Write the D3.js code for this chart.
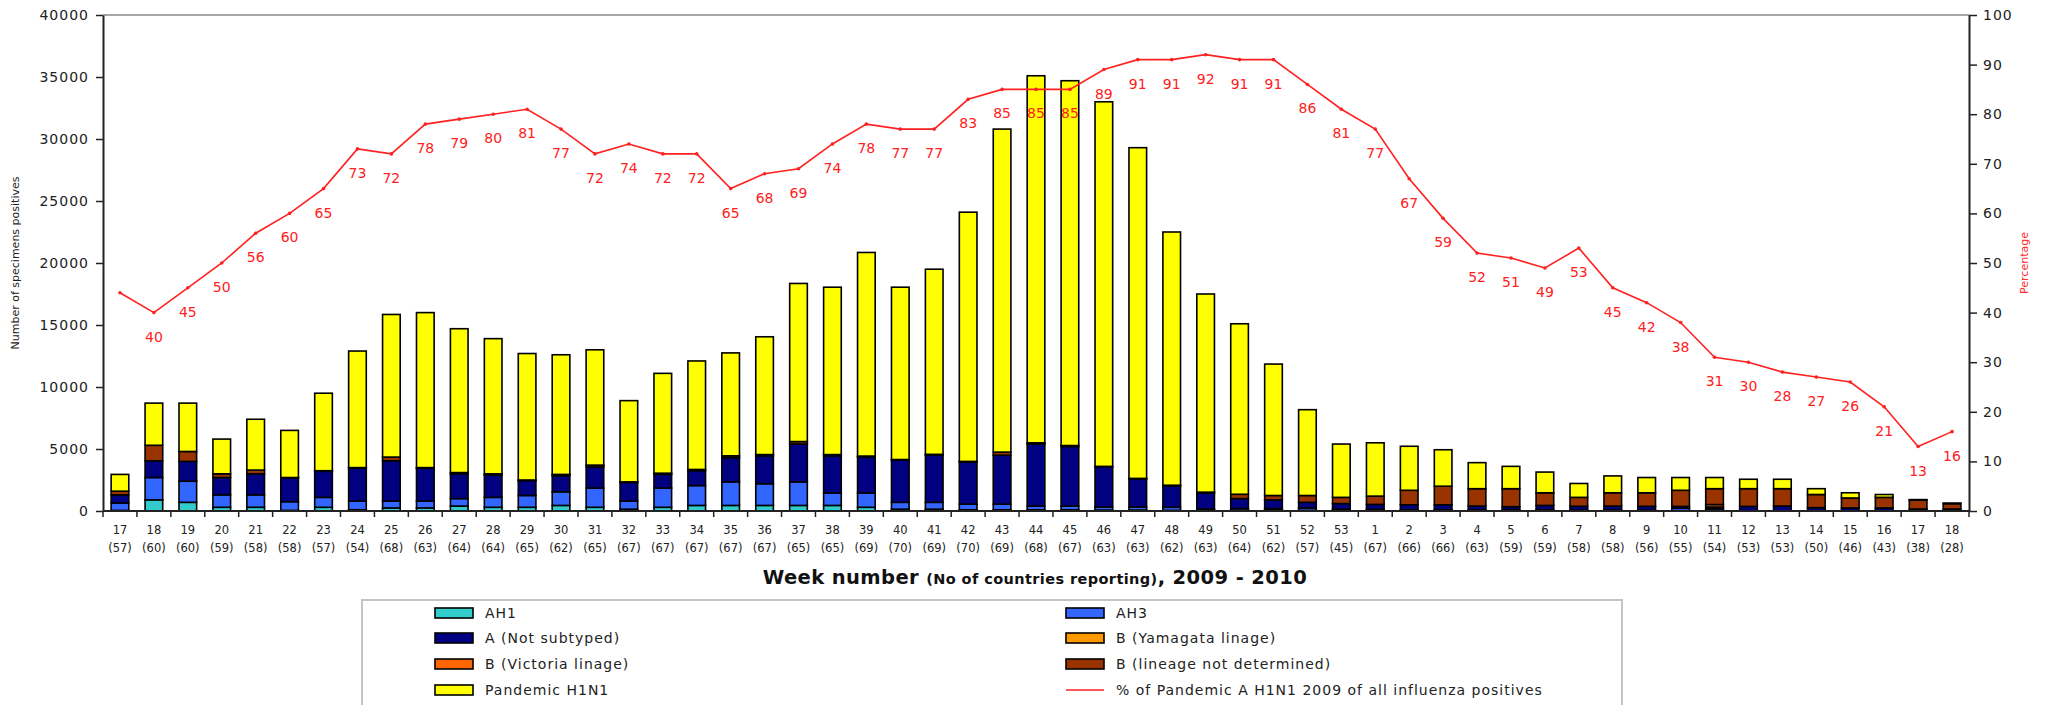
<!DOCTYPE html>
<html><head><meta charset="utf-8">
<script src="https://cdn.jsdelivr.net/npm/d3@7"></script>
<style>body{margin:0;background:#fff;} svg{display:block;}</style>
</head><body>
<svg id="chart" width="2048" height="705"></svg>
<script>
// ---------- DATA ----------
const weeks = ["17","18","19","20","21","22","23","24","25","26","27","28","29","30","31","32","33","34","35","36","37","38","39","40","41","42","43","44","45","46","47","48","49","50","51","52","53","1","2","3","4","5","6","7","8","9","10","11","12","13","14","15","16","17","18"];
const countries = ["(57)","(60)","(60)","(59)","(58)","(58)","(57)","(54)","(68)","(63)","(64)","(64)","(65)","(62)","(65)","(67)","(67)","(67)","(67)","(67)","(65)","(65)","(69)","(70)","(69)","(70)","(69)","(68)","(67)","(63)","(63)","(62)","(63)","(64)","(62)","(57)","(45)","(67)","(66)","(66)","(63)","(59)","(59)","(58)","(58)","(56)","(55)","(54)","(53)","(53)","(50)","(46)","(43)","(38)","(28)"];

const AH1 = [50,900,700,300,300,50,300,100,250,250,400,300,300,450,300,150,300,450,450,450,450,450,300,150,150,100,100,100,100,80,80,50,50,50,100,50,50,30,30,30,20,20,20,20,20,20,20,20,0,0,0,0,0,0,0];
const AH3 = [600,1800,1700,1000,1000,700,800,700,550,550,600,800,950,1100,1550,650,1550,1600,1900,1750,1900,1000,1150,550,550,450,450,300,300,250,250,250,100,150,100,200,100,100,70,70,80,80,80,60,80,60,200,150,20,20,20,20,20,10,10];
const ANotSubtyped = [650,1350,1600,1400,1700,1900,2100,2650,3250,2650,2000,1800,1200,1300,1700,1500,1100,1200,1950,2250,3050,3000,2900,3400,3800,3400,3950,5000,4800,3200,2250,1700,1300,800,700,450,450,400,400,400,300,250,350,300,300,300,150,150,350,380,250,230,230,150,150];
const BYamagata = [0,0,0,0,0,0,0,0,0,0,0,0,0,0,0,0,0,0,0,0,0,0,0,0,0,0,0,0,0,0,0,0,0,0,0,0,0,0,0,0,0,0,0,0,0,0,0,0,0,0,0,0,0,0,0];
const BVictoria = [0,0,0,0,0,0,0,0,0,0,0,0,0,0,0,0,0,0,0,0,0,0,0,0,0,0,0,0,0,0,0,0,0,0,0,0,0,0,0,0,0,0,0,0,0,0,0,200,0,0,0,0,0,0,0];
const BNotDetermined = [300,1250,800,300,300,50,50,50,300,50,100,100,50,100,150,50,100,100,150,100,200,100,80,50,70,50,250,100,80,70,50,80,70,350,350,550,500,670,1170,1500,1400,1450,1020,720,1070,1090,1300,1280,1430,1400,1060,800,850,710,430];
const PandemicH1N1 = [1350,3400,3900,2800,4100,3800,6250,9400,11500,12500,11600,10900,10200,9650,9300,6550,8050,8750,8300,9500,12750,13500,16420,13900,14930,20100,26050,29600,29420,29400,26670,20420,15980,13750,10600,6920,4300,4300,3550,2940,2100,1800,1670,1120,1360,1230,1030,900,760,760,470,420,230,50,50];

const pctPandemic = [44,40,45,50,56,60,65,73,72,78,79,80,81,77,72,74,72,72,65,68,69,74,78,77,77,83,85,85,85,89,91,91,92,91,91,86,81,77,67,59,52,51,49,53,45,42,38,31,30,28,27,26,21,13,16];
const pctShowLabel = [false].concat(d3.range(54).map(() => true));

const leftTicks = [0,5000,10000,15000,20000,25000,30000,35000,40000];
const rightTicks = [0,10,20,30,40,50,60,70,80,90,100];

const seriesNames = ["AH1","AH3","A (Not subtyped)","B (Yamagata linage)","B (Victoria linage)","B (lineage not determined)","Pandemic  H1N1"];
const seriesColors = ["#33cccc","#3366ff","#000080","#ff9900","#ff6600","#993300","#ffff00"];
const lineName = "% of Pandemic A H1N1 2009 of all influenza positives";
const legendOrder = [0,1,2,3,4,5,6,7]; // 7 = line

// ---------- BUILD ----------
const seriesArrays = [AH1,AH3,ANotSubtyped,BYamagata,BVictoria,BNotDetermined,PandemicH1N1];
const table = weeks.map((w,i) => {
  const row = {i};
  seriesNames.forEach((s,k) => row[s] = seriesArrays[k][i]);
  return row;
});

const svg = d3.select("#chart");
const L = 103, R = 1969, T = 15, B = 511;
const FONT = "'DejaVu Sans', Arial, sans-serif";

const x = d3.scaleBand().domain(d3.range(weeks.length)).range([L,R]).paddingInner(0.48).paddingOuter(0.24);
const y = d3.scaleLinear().domain([0,40000]).range([B,T]);
const yR = d3.scaleLinear().domain([0,100]).range([B,T]);
const step = x.step();

// plot area border (grey top)
svg.append("line").attr("x1",L).attr("x2",R).attr("y1",T).attr("y2",T)
  .attr("stroke","#a6a6a6").attr("stroke-width",2);

// stacked bars
const stack = d3.stack().keys(seriesNames)(table);
const gBars = svg.append("g");
stack.forEach((layer,k) => {
  gBars.append("g").attr("fill",seriesColors[k])
    .selectAll("rect").data(layer.filter(d => d[1]-d[0] > 0)).join("rect")
    .attr("x", d => x(d.data.i))
    .attr("width", x.bandwidth())
    .attr("y", d => y(d[1]))
    .attr("height", d => y(d[0]) - y(d[1]))
    .attr("stroke","#000").attr("stroke-width",1.6);
});

// left axis
const axL = svg.append("g").attr("transform",`translate(${L},0)`)
  .call(d3.axisLeft(y).tickValues(leftTicks).tickSize(7).tickSizeOuter(0).tickPadding(7).tickFormat(d3.format("d")));
axL.select(".domain").attr("stroke","#222").attr("stroke-width",2);
axL.selectAll(".tick line").attr("stroke","#222").attr("stroke-width",1.5);
axL.selectAll("text").attr("font-family",FONT).attr("font-size",14).attr("letter-spacing",1).attr("fill","#222");

// right axis
const axR = svg.append("g").attr("transform",`translate(${R},0)`)
  .call(d3.axisRight(yR).tickValues(rightTicks).tickSize(8).tickSizeOuter(0).tickPadding(6));
axR.select(".domain").attr("stroke","#222").attr("stroke-width",2);
axR.selectAll(".tick line").attr("stroke","#222").attr("stroke-width",1.5);
axR.selectAll("text").attr("font-family",FONT).attr("font-size",14).attr("letter-spacing",1).attr("fill","#222");

// bottom axis: line + boundary ticks
svg.append("line").attr("x1",L).attr("x2",R).attr("y1",B).attr("y2",B).attr("stroke","#222").attr("stroke-width",2);
const boundaries = d3.range(weeks.length+1).map(i => i < weeks.length ? x(i) - step*x.paddingInner()/2 : x(i-1) + x.bandwidth() + step*x.paddingInner()/2);
svg.append("g").selectAll("line").data(boundaries).join("line")
  .attr("x1",d=>d).attr("x2",d=>d).attr("y1",B).attr("y2",B+6)
  .attr("stroke","#222").attr("stroke-width",1.5);

const gX = svg.append("g").attr("font-family",FONT).attr("font-size",11.5).attr("fill","#222").attr("text-anchor","middle");
gX.selectAll("text.wk").data(weeks).join("text").attr("class","wk")
  .attr("x",(d,i)=>x(i)+x.bandwidth()/2).attr("y",534).text(d=>d);
gX.selectAll("text.ct").data(countries).join("text").attr("class","ct")
  .attr("x",(d,i)=>x(i)+x.bandwidth()/2).attr("y",552).text(d=>d);

// x title
const xt = svg.append("text").attr("x",1035).attr("y",584).attr("text-anchor","middle")
  .attr("font-family",FONT).attr("font-weight","bold").attr("fill","#111").attr("letter-spacing",0.4);
xt.append("tspan").attr("font-size",19.5).text("Week number ");
xt.append("tspan").attr("font-size",14.5).text("(No of countries reporting)");
xt.append("tspan").attr("font-size",19.5).text(", 2009 - 2010");

// y titles
svg.append("text").attr("transform",`translate(19,${(T+B)/2}) rotate(-90)`).attr("text-anchor","middle")
  .attr("font-family",FONT).attr("font-size",11).attr("fill","#222").text("Number of specimens positives");
svg.append("text").attr("transform",`translate(2028,${(T+B)/2}) rotate(-90)`).attr("text-anchor","middle")
  .attr("font-family",FONT).attr("font-size",11).attr("fill","#ff2a2a").text("Percentage");

// line
const cx = i => x(i) + x.bandwidth()/2;
const line = d3.line().x((d,i)=>cx(i)).y(d=>yR(d));
svg.append("path").datum(pctPandemic).attr("d",line).attr("fill","none")
  .attr("stroke","#ff2020").attr("stroke-width",1.6);
svg.append("g").selectAll("circle").data(pctPandemic).join("circle")
  .attr("cx",(d,i)=>cx(i)).attr("cy",d=>yR(d)).attr("r",1.8).attr("fill","#ff2020");
svg.append("g").attr("font-family",FONT).attr("font-size",14).attr("fill","#ff2020").attr("text-anchor","middle")
  .selectAll("text").data(pctPandemic.map((v,i)=>({v,i})).filter(d=>pctShowLabel[d.i])).join("text")
  .attr("x",d=>cx(d.i)).attr("y",d=>yR(d.v)+29).text(d=>d.v);

// legend
const lg = svg.append("g");
lg.append("rect").attr("x",362).attr("y",600).attr("width",1260).attr("height",130)
  .attr("fill","#fff").attr("stroke","#c4c4c4").attr("stroke-width",2);
const colX = [435,1066], rowY = [613,638,664,690];
legendOrder.forEach((k,j) => {
  const cxL = colX[j%2], ry = rowY[Math.floor(j/2)];
  if (k < 7) {
    lg.append("rect").attr("x",cxL).attr("y",ry-5).attr("width",38).attr("height",10)
      .attr("fill",seriesColors[k]).attr("stroke","#000").attr("stroke-width",1.6);
  } else {
    lg.append("line").attr("x1",cxL).attr("x2",cxL+38).attr("y1",ry).attr("y2",ry)
      .attr("stroke","#ff2020").attr("stroke-width",1.6);
  }
  lg.append("text").attr("x",cxL+50).attr("y",ry+5).attr("font-family",FONT).attr("font-size",14)
    .attr("letter-spacing",1).attr("fill","#222").text(k < 7 ? seriesNames[k] : lineName);
});
</script>
</body></html>
